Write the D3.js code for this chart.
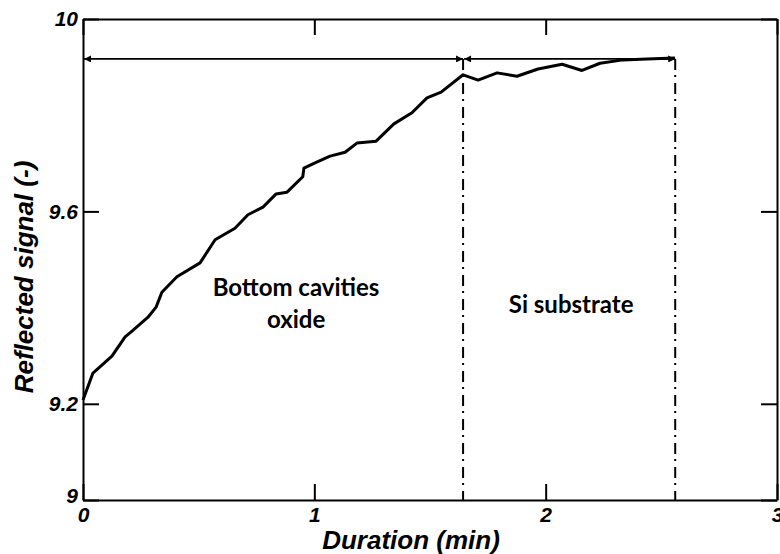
<!DOCTYPE html>
<html>
<head>
<meta charset="utf-8">
<script src="https://cdn.jsdelivr.net/npm/d3@7"></script>
<style>
  html, body { margin: 0; padding: 0; background: #fff; }
  svg { display: block; }
  .tick text { font-family: "Liberation Sans", Arial, sans-serif; font-weight: bold; font-style: italic; font-size: 21px; fill: #000; }
  .axis-title { font-family: "Liberation Sans", Arial, sans-serif; font-weight: bold; font-style: italic; font-size: 26px; fill: #000; }
  .region { font-family: Lato, "Open Sans", sans-serif; font-weight: bold; font-size: 24px; fill: #000; }
</style>
</head>
<body>
<script>
// Reflected signal recorded during etching (time in minutes)
const durationMin = [
  0.000, 0.043, 0.125, 0.182, 0.212, 0.281, 0.316, 0.341, 0.406, 0.506,
  0.571, 0.657, 0.713, 0.778, 0.834, 0.882, 0.950, 0.955, 1.003, 1.068,
  1.133, 1.184, 1.267, 1.344, 1.422, 1.487, 1.548, 1.643, 1.708, 1.790,
  1.876, 1.967, 2.071, 2.157, 2.235, 2.334, 2.438, 2.559
];
const reflectedSignal = [
  9.208, 9.264, 9.299, 9.339, 9.351, 9.380, 9.401, 9.432, 9.464, 9.493,
  9.541, 9.565, 9.593, 9.609, 9.636, 9.640, 9.672, 9.690, 9.701, 9.715,
  9.723, 9.742, 9.746, 9.782, 9.805, 9.836, 9.848, 9.884, 9.873, 9.888,
  9.881, 9.896, 9.906, 9.893, 9.908, 9.915, 9.917, 9.919
];

// Axis ticks
const xTicks = [0, 1, 2, 3];
const yTicks = [9, 9.2, 9.6, 10];
const xTickLabels = ["0", "1", "2", "3"];
const yTickLabels = ["9", "9.2", "9.6", "10"];

// Phase boundaries (min) and the span arrows drawn between them
const phaseBounds = [0, 1.643, 2.56];
const spanLevel = 9.917;
const phaseNames = [["Bottom cavities", "oxide"], ["Si substrate"]];

const W = 780, H = 554;
const m = { left: 83, top: 19, right: 3, bottom: 54 };
const iw = W - m.left - m.right, ih = H - m.top - m.bottom;

const svg = d3.select("body").append("svg").attr("width", W).attr("height", H);
const defs = svg.append("defs");
["end", "start"].forEach(k => {
  defs.append("marker")
    .attr("id", "arrow-" + k)
    .attr("viewBox", "0 0 10 10")
    .attr("refX", k === "end" ? 10 : 0).attr("refY", 5)
    .attr("markerWidth", 9).attr("markerHeight", 7)
    .attr("markerUnits", "userSpaceOnUse")
    .attr("orient", "auto")
    .append("path")
    .attr("d", k === "end" ? "M0,0L10,5L0,10Z" : "M10,0L0,5L10,10Z")
    .attr("fill", "#000");
});

const g = svg.append("g").attr("transform", `translate(${m.left},${m.top})`);

const x = d3.scaleLinear().domain([0, 3]).range([0, iw]);
const y = d3.scaleLinear().domain([9, 10]).range([ih, 0]);

// Axes: ticks point inward on all four sides
const tick = 16;
const axB = g.append("g").attr("transform", `translate(0,${ih})`)
  .call(d3.axisBottom(x).tickValues(xTicks).tickFormat((d, i) => xTickLabels[i])
    .tickSizeInner(-tick).tickSizeOuter(0).tickPadding(7));
const axL = g.append("g")
  .call(d3.axisLeft(y).tickValues(yTicks).tickFormat((d, i) => yTickLabels[i])
    .tickSizeInner(-tick).tickSizeOuter(0).tickPadding(5));
const axT = g.append("g")
  .call(d3.axisTop(x).tickValues(xTicks).tickFormat("").tickSizeInner(-tick).tickSizeOuter(0));
const axR = g.append("g").attr("transform", `translate(${iw},0)`)
  .call(d3.axisRight(y).tickValues(yTicks).tickFormat("").tickSizeInner(-tick).tickSizeOuter(0));

[axB, axL, axT, axR].forEach(a => {
  a.select(".domain").attr("stroke", "#000").attr("stroke-width", 2);
  a.selectAll(".tick line").attr("stroke", "#000").attr("stroke-width", 2);
});
// the lowest y label sits slightly above the corner
axL.selectAll(".tick text").attr("dy", d => d === 9 ? "0.12em" : "0.32em");

// Phase boundary lines (dash-dot)
g.selectAll("line.bound").data(phaseBounds.slice(1)).join("line")
  .attr("class", "bound")
  .attr("x1", d => x(d)).attr("x2", d => x(d))
  .attr("y1", y(spanLevel)).attr("y2", y(9))
  .attr("stroke", "#000").attr("stroke-width", 2)
  .attr("stroke-dasharray", "11,5,2,6");

// Span arrows for each phase
g.selectAll("line.span").data(d3.pairs(phaseBounds)).join("line")
  .attr("class", "span")
  .attr("x1", d => x(d[0]) + 1).attr("x2", d => x(d[1]))
  .attr("y1", y(spanLevel)).attr("y2", y(spanLevel))
  .attr("stroke", "#000").attr("stroke-width", 1.8)
  .attr("marker-start", "url(#arrow-start)")
  .attr("marker-end", "url(#arrow-end)");

// Signal curve
const line = d3.line().x((d, i) => x(durationMin[i])).y(d => y(d));
g.append("path").datum(reflectedSignal)
  .attr("d", line)
  .attr("fill", "none").attr("stroke", "#000").attr("stroke-width", 3)
  .attr("stroke-linejoin", "round");

// Phase labels
const labelPos = [{ x: 0.921, y: 9.424 }, { x: 2.11, y: 9.389 }];
phaseNames.forEach((lines, i) => {
  const t = g.append("text").attr("class", "region")
    .attr("text-anchor", "middle")
    .attr("x", x(labelPos[i].x)).attr("y", y(labelPos[i].y));
  lines.forEach((s, j) => {
    t.append("tspan").attr("x", x(labelPos[i].x)).attr("dy", j === 0 ? 0 : 32).text(s);
  });
});

// Axis titles
svg.append("text").attr("class", "axis-title")
  .attr("text-anchor", "middle")
  .attr("x", 411).attr("y", 549)
  .text("Duration (min)");
svg.append("text").attr("class", "axis-title")
  .attr("text-anchor", "middle")
  .attr("transform", "translate(33,277) rotate(-90)")
  .text("Reflected signal (-)");
</script>
</body>
</html>
